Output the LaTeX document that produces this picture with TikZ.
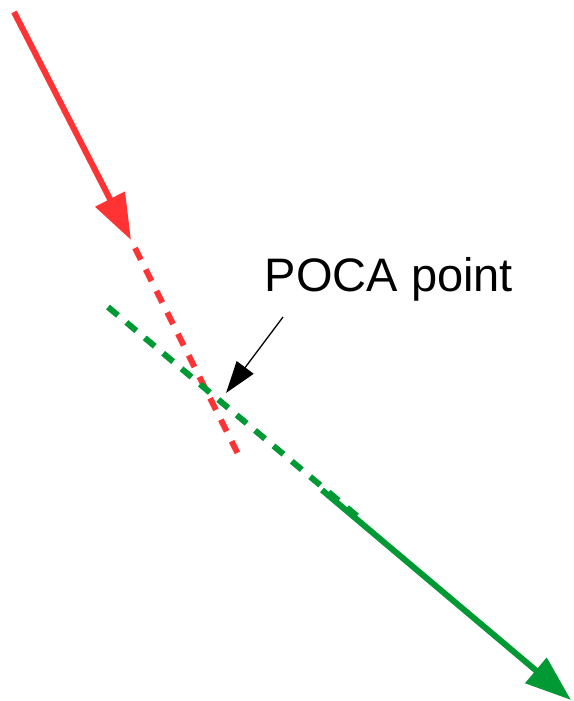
\documentclass[tikz,border=0pt]{standalone}
\usepackage{fontspec}
\setmainfont{Liberation Sans}
\usetikzlibrary{arrows.meta}
\definecolor{myred}{HTML}{FF3333}
\definecolor{mygreen}{HTML}{009933}
\tikzset{
  track/.style={line width=6pt},
  dashtrack/.style={line width=6pt, dash pattern=on 13pt off 11pt},
  bighead/.style={-{Triangle[length=46pt,width=32pt]}},
}
\begin{document}
\begin{tikzpicture}[x=1pt,y=-1pt]
\useasboundingbox (0,0) rectangle (573,701);
\coordinate (rs) at (14,12);
\coordinate (rt) at (131,240);
\coordinate (rd) at (135,248);
\coordinate (re) at (239,456);
\coordinate (gs) at (108,307);
\coordinate (ge) at (357,516);
\coordinate (g1) at (322,490);
\coordinate (gt) at (571,700);
\coordinate (as) at (283,317);
\coordinate (at) at (226,393);
\draw[track, myred, bighead] (rs) -- (rt);
\draw[dashtrack, myred] (rd) -- (re);
\draw[dashtrack, mygreen] (gs) -- (ge);
\draw[track, mygreen, bighead] (g1) -- (gt);
\node[font=\fontsize{47}{50}\selectfont, inner sep=0pt] (lbl) at (389,279) {POCA point};
\draw[line width=1.3pt, -{Triangle[length=32pt,width=21pt]}] (as) -- (at);
\end{tikzpicture}
\end{document}
